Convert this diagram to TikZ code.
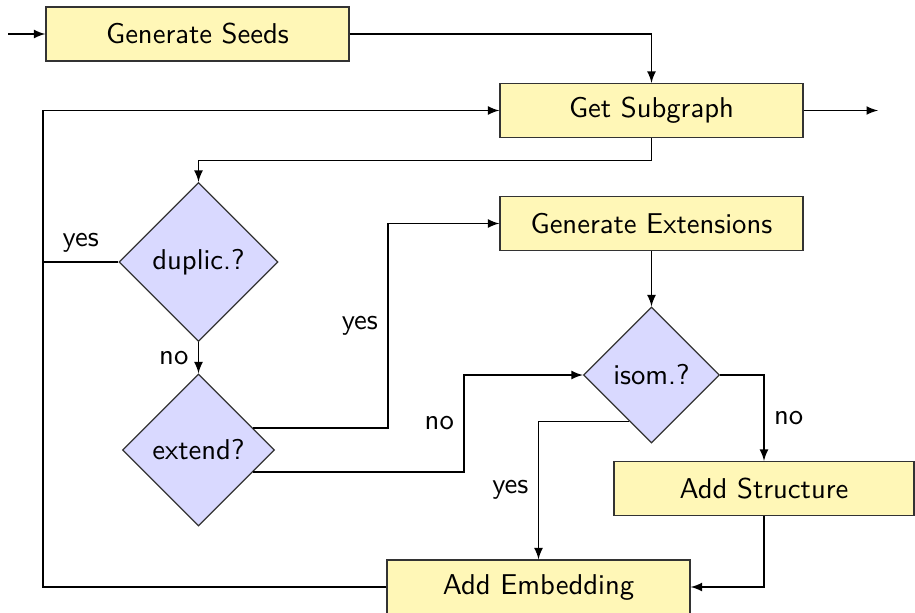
\documentclass[tikz,border=0pt]{standalone}
\usetikzlibrary{shapes.geometric,arrows}
\newlength\pxu
\setlength\pxu{0.349pt}
\definecolor{boxfill}{RGB}{255,247,183}
\definecolor{diafill}{RGB}{217,217,255}
\begin{document}
\begin{tikzpicture}[x=\pxu,y=-\pxu,
  font=\sffamily,
  proc/.style={draw=black!80,fill=boxfill,minimum width=303\pxu,minimum height=54\pxu,inner sep=0pt},
  dec/.style={draw=black!80,fill=diafill,shape=diamond,aspect=1,inner sep=0pt},
  arr/.style={-latex,draw=black},
  ln/.style={draw=black}]
\useasboundingbox (0,0) rectangle (915,612);
% nodes
\node[proc] (seeds) at (197.5,34) {Generate Seeds};
\node[proc] (sub) at (651.5,110.5) {Get Subgraph};
\node[proc] (ext) at (651.5,223.5) {Generate Extensions};
\node[proc,minimum width=300\pxu] (struct) at (764,488.5) {Add Structure};
\node[proc] (emb) at (538.5,587) {Add Embedding};
\node[dec,minimum size=159\pxu] (dup) at (198.5,262) {duplic.?};
\node[dec,minimum size=152\pxu] (extd) at (198.5,450) {extend?};
\node[dec,minimum size=136\pxu] (isom) at (651.5,375) {isom.?};
% helper coordinates
\coordinate (in) at (8,34);
\coordinate (out) at (878,110.5);
\coordinate (lt) at (43,110.5);
\coordinate (k1) at (388,0);
\coordinate (k2) at (464,0);
% connectors
\draw[arr] (in) -- (seeds.west);
\draw[arr] (seeds.east) -| (sub.north);
\draw[arr] (sub.east) -- (out);
\draw[arr] (sub.south) -- ++(0,22.5) -| (dup.north);
\draw[arr] (emb.west) -| (lt) -- (sub.west);
\draw[ln] (dup.west) -- node[above] {yes} (dup.west -| lt);
\draw[arr] (dup.south) -- node[left] {no} (extd.north);
\draw[arr] (extd.22) -- (extd.22 -| k1) |- node[pos=0.25,left] {yes} (ext.west);
\draw[arr] (extd.-22) -- (extd.-22 -| k2) |- node[pos=0.25,left] {no} (isom.west);
\draw[arr] (ext.south) -- (isom.north);
\draw[arr] (isom.east) -| node[pos=0.75,right] {no} (struct.north);
\draw[arr] (isom.244) -| node[pos=0.75,left] {yes} (emb.north);
\draw[arr] (struct.south) |- (emb.east);
\end{tikzpicture}
\end{document}
